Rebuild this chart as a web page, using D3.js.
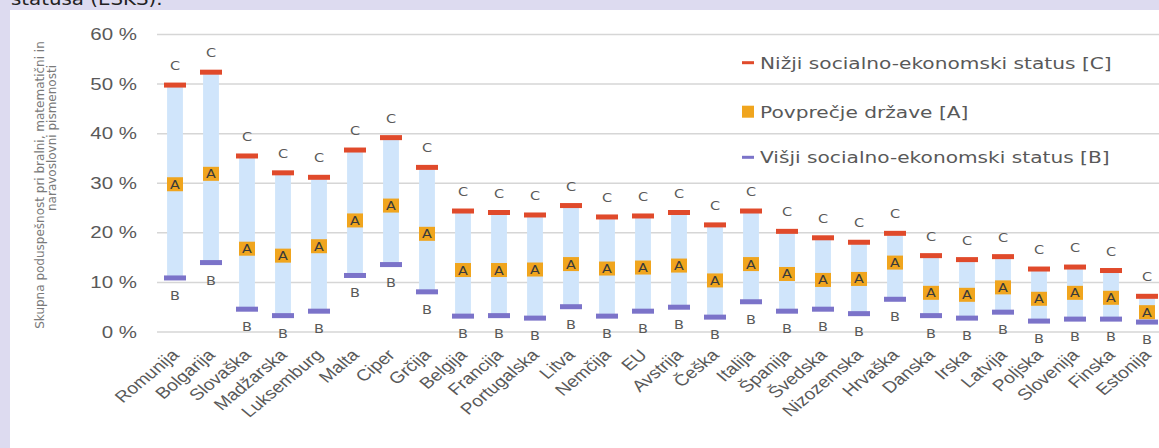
<!DOCTYPE html>
<html>
<head>
<meta charset="utf-8">
<script src="https://cdn.jsdelivr.net/npm/d3@7"></script>
<style>
  body { margin: 0; background: #dddbf0; }
  svg { display: block; font-family: "DejaVu Sans", Verdana, sans-serif; }
</style>
</head>
<body>
<svg id="chart" width="1159" height="448"></svg>
<script>
// countries, left to right
var countries = ["Romunija", "Bolgarija", "Slovaška", "Madžarska", "Luksemburg", "Malta", "Ciper", "Grčija",
  "Belgija", "Francija", "Portugalska", "Litva", "Nemčija", "EU", "Avstrija", "Češka", "Italija", "Španija",
  "Švedska", "Nizozemska", "Hrvaška", "Danska", "Irska", "Latvija", "Poljska", "Slovenija", "Finska", "Estonija"];

// lower socio-economic status [C]
var lowSES = [49.8, 52.4, 35.5, 32.1, 31.2, 36.7, 39.2, 33.2, 24.4, 24.1, 23.6, 25.5, 23.2, 23.4, 24.1, 21.6,
  24.4, 20.3, 19.0, 18.1, 19.9, 15.4, 14.6, 15.2, 12.7, 13.1, 12.4, 7.2];
// country average [A]
var average = [29.8, 31.9, 16.8, 15.4, 17.3, 22.5, 25.5, 19.8, 12.5, 12.5, 12.6, 13.7, 12.8, 13.0, 13.4, 10.4,
  13.7, 11.7, 10.5, 10.7, 14.0, 7.9, 7.5, 9.0, 6.7, 7.9, 6.9, 4.0];
// higher socio-economic status [B]
var highSES = [10.9, 14.0, 4.6, 3.3, 4.2, 11.4, 13.6, 8.1, 3.2, 3.3, 2.8, 5.1, 3.2, 4.2, 5.0, 3.0,
  6.1, 4.2, 4.6, 3.7, 6.6, 3.3, 2.8, 4.0, 2.2, 2.6, 2.6, 2.0];

var yTicks = [0, 10, 20, 30, 40, 50, 60];
var legendLabels = ["Nižji socialno-ekonomski status [C]", "Povprečje države [A]", "Višji socialno-ekonomski status [B]"];

var red = "#e04a2b", orange = "#f0a51e", purple = "#7b73c9", blue = "#d0e5fb", grey = "#595959";
// the original picture is stretched sideways, so the text is too
var sx = 1.26;

var svg = d3.select("#chart");

// white panel on the lavender page
svg.append("rect").attr("x", 10).attr("y", 10).attr("width", 1149).attr("height", 438).attr("fill", "#fff");

// cut-off text from the document above
svg.append("text").attr("transform", "translate(11,5) scale(1.1,1)").attr("font-size", 18).attr("fill", "#222")
  .text("statusa (ESKS).");

var x = d3.scaleBand().domain(countries).range([157, 157 + countries.length * 36]);
var y = d3.scaleLinear().domain([0, 60]).range([332, 34.5]);
var cx = function(i){ return x(countries[i]) + x.bandwidth() / 2 };

// gridlines
svg.append("g").selectAll("line").data(yTicks).enter().append("line")
  .attr("x1", 157).attr("x2", 1159)
  .attr("y1", function(d){ return y(d) }).attr("y2", function(d){ return y(d) })
  .attr("stroke", "#d6d6d6").attr("stroke-width", 1.5);

// y axis
var yAxis = svg.append("g").attr("transform", "translate(157,0)")
  .call(d3.axisLeft(y).tickValues(yTicks).tickSize(0).tickFormat(function(d){ return d + " %" }));
yAxis.select(".domain").remove();
yAxis.selectAll("text").attr("font-size", 16).attr("fill", grey).style("font-family", "inherit")
  .attr("x", 0).attr("transform", "translate(-20,0) scale(1.28,1)");

// y axis title
svg.append("text").attr("transform", "translate(44,185) rotate(-90)").attr("text-anchor", "middle")
  .attr("font-size", 12).attr("fill", "#7a7a7a").text("Skupna poduspešnost pri bralni, matematični in");
svg.append("text").attr("transform", "translate(56,138) rotate(-90)").attr("text-anchor", "middle")
  .attr("font-size", 12).attr("fill", "#7a7a7a").text("naravoslovni pismenosti");

// x axis
var xAxis = svg.append("g").attr("transform", "translate(0,332)")
  .call(d3.axisBottom(x).tickSize(0));
xAxis.select(".domain").remove();
xAxis.selectAll("text").attr("font-size", 16).attr("fill", grey).style("font-family", "inherit")
  .attr("text-anchor", "end").attr("x", 0).attr("y", 0).attr("dy", 0)
  .attr("transform", "translate(5,24) scale(1.2,1) rotate(-45)");

// range bars
var bw = x.bandwidth();
var g = svg.append("g");
g.selectAll(".range").data(countries).enter().append("rect")
  .attr("x", function(d, i){ return cx(i) - bw * 0.22 })
  .attr("width", bw * 0.44)
  .attr("y", function(d, i){ return y(lowSES[i]) })
  .attr("height", function(d, i){ return y(highSES[i]) - y(lowSES[i]) })
  .attr("fill", blue);

// C caps and labels
g.selectAll(".capC").data(lowSES).enter().append("rect")
  .attr("x", function(d, i){ return cx(i) - 11 }).attr("width", 22)
  .attr("y", function(d){ return y(d) - 2.5 }).attr("height", 5)
  .attr("fill", red);
g.selectAll(".labC").data(lowSES).enter().append("text")
  .attr("transform", function(d, i){ return "translate(" + cx(i) + "," + (y(d) - 15) + ") scale(" + sx + ",1)" })
  .attr("text-anchor", "middle").attr("font-size", 11.5).attr("fill", grey).text("C");

// B caps and labels
g.selectAll(".capB").data(highSES).enter().append("rect")
  .attr("x", function(d, i){ return cx(i) - 11 }).attr("width", 22)
  .attr("y", function(d){ return y(d) - 2.5 }).attr("height", 5)
  .attr("fill", purple);
g.selectAll(".labB").data(highSES).enter().append("text")
  .attr("transform", function(d, i){ return "translate(" + cx(i) + "," + (y(d) + 22) + ") scale(" + sx + ",1)" })
  .attr("text-anchor", "middle").attr("font-size", 11.5).attr("fill", grey).text("B");

// A markers
g.selectAll(".boxA").data(average).enter().append("rect")
  .attr("x", function(d, i){ return cx(i) - 8 }).attr("width", 16)
  .attr("y", function(d){ return y(d) - 7 }).attr("height", 14)
  .attr("fill", orange);
g.selectAll(".labA").data(average).enter().append("text")
  .attr("transform", function(d, i){ return "translate(" + cx(i) + "," + (y(d) + 4.5) + ") scale(1.15,1)" })
  .attr("text-anchor", "middle").attr("font-size", 12.5).attr("fill", "#3a3a3a").text("A");

// legend
var legend = svg.append("g").attr("transform", "translate(742,0)");
var rowsY = [62.7, 111.7, 157.3];
var rowColors = [red, orange, purple];
legendLabels.forEach(function(t, i){
  var r = legend.append("g").attr("transform", "translate(0," + rowsY[i] + ")");
  if (i === 1) r.append("rect").attr("x", 0).attr("y", -6).attr("width", 12).attr("height", 12).attr("fill", rowColors[i]);
  else r.append("rect").attr("x", 0).attr("y", -1.5).attr("width", 12).attr("height", 3).attr("fill", rowColors[i]);
  r.append("text").attr("transform", "translate(18,6) scale(" + sx + ",1)")
    .attr("font-size", 16).attr("fill", grey).text(t);
});
</script>
</body>
</html>
